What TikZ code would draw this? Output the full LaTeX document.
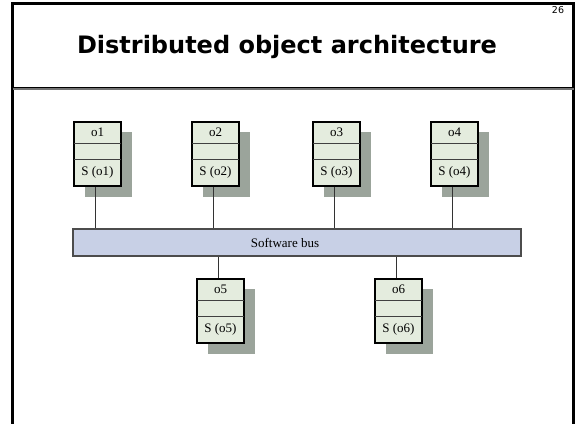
\documentclass[tikz,border=0pt]{standalone}
\usepackage{fontspec}
\setmainfont{Liberation Serif}
\newfontfamily\titlefont{DejaVu Sans}
\begin{document}
\begin{tikzpicture}[x=1pt,y=-1pt,
  objrect/.style={draw=black,line width=1.2pt,fill=boxc,minimum width=47pt,minimum height=64pt,inner sep=0pt},
  shadowbox/.style={fill=shadowc},
  rowline/.style={draw=black!75,line width=0.9pt},
  lbl/.style={font=\fontsize{13}{13}\selectfont,inner sep=0pt},
  busbox/.style={draw=black!70,line width=1.3pt,fill=busc,minimum width=448pt,minimum height=27pt,inner sep=0pt},
  conn/.style={draw=black!80,line width=0.8pt}]
\definecolor{boxc}{RGB}{228,236,222}
\definecolor{shadowc}{RGB}{155,164,155}
\definecolor{busc}{RGB}{200,208,230}
\useasboundingbox (0,0) rectangle (575,423);
\clip (0,0) rectangle (575,423);
\fill[white] (0,0) rectangle (575,423);
% slide frame
\draw[line width=2.4pt] (12.5,430) -- (12.5,3.5) -- (573.5,3.5) -- (573.5,430);
\draw[line width=3pt,black!55] (12.5,88.5) -- (573.5,88.5);
\draw[line width=0.8pt,black] (12.5,87.2) -- (573.5,87.2);
\node[font=\titlefont\bfseries\fontsize{24}{24}\selectfont,anchor=base] (title) at (287,53) {Distributed object architecture};
\node[font=\titlefont\fontsize{9.5}{9.5}\selectfont] (num) at (558,10) {26};
% bus
\node[busbox] (bus) at (297,242.5) {};
\node[font=\fontsize{13}{13}\selectfont,inner sep=0pt] (bustext) at (285,242.5) {Software bus};
\newcommand\objbox[3]{%
  \fill[shadowbox] (#2+11,#3+10) rectangle ++(47,65);
  \node[objrect] (#1) at (#2+23.5,#3+32) {};
  \draw[rowline] (#2,#3+21) -- ++(47,0);
  \draw[rowline] (#2,#3+37) -- ++(47,0);
  \node[lbl] (#1t) at (#2+23.5,#3+10.5) {#1};
  \node[lbl] (#1s) at (#2+23.5,#3+50) {S (#1)};
}
\objbox{o1}{74}{122}
\objbox{o2}{192}{122}
\objbox{o3}{313}{122}
\objbox{o4}{431}{122}
\objbox{o5}{197}{279}
\objbox{o6}{375}{279}
\foreach \n in {o1,o2,o3,o4}{\draw[conn] ([xshift=-2.5pt]\n.south) -- ([xshift=-2.5pt]\n.south |- bus.north);}
\foreach \n in {o5,o6}{\draw[conn] ([xshift=-2.5pt]\n.north) -- ([xshift=-2.5pt]\n.north |- bus.south);}
\end{tikzpicture}
\end{document}
